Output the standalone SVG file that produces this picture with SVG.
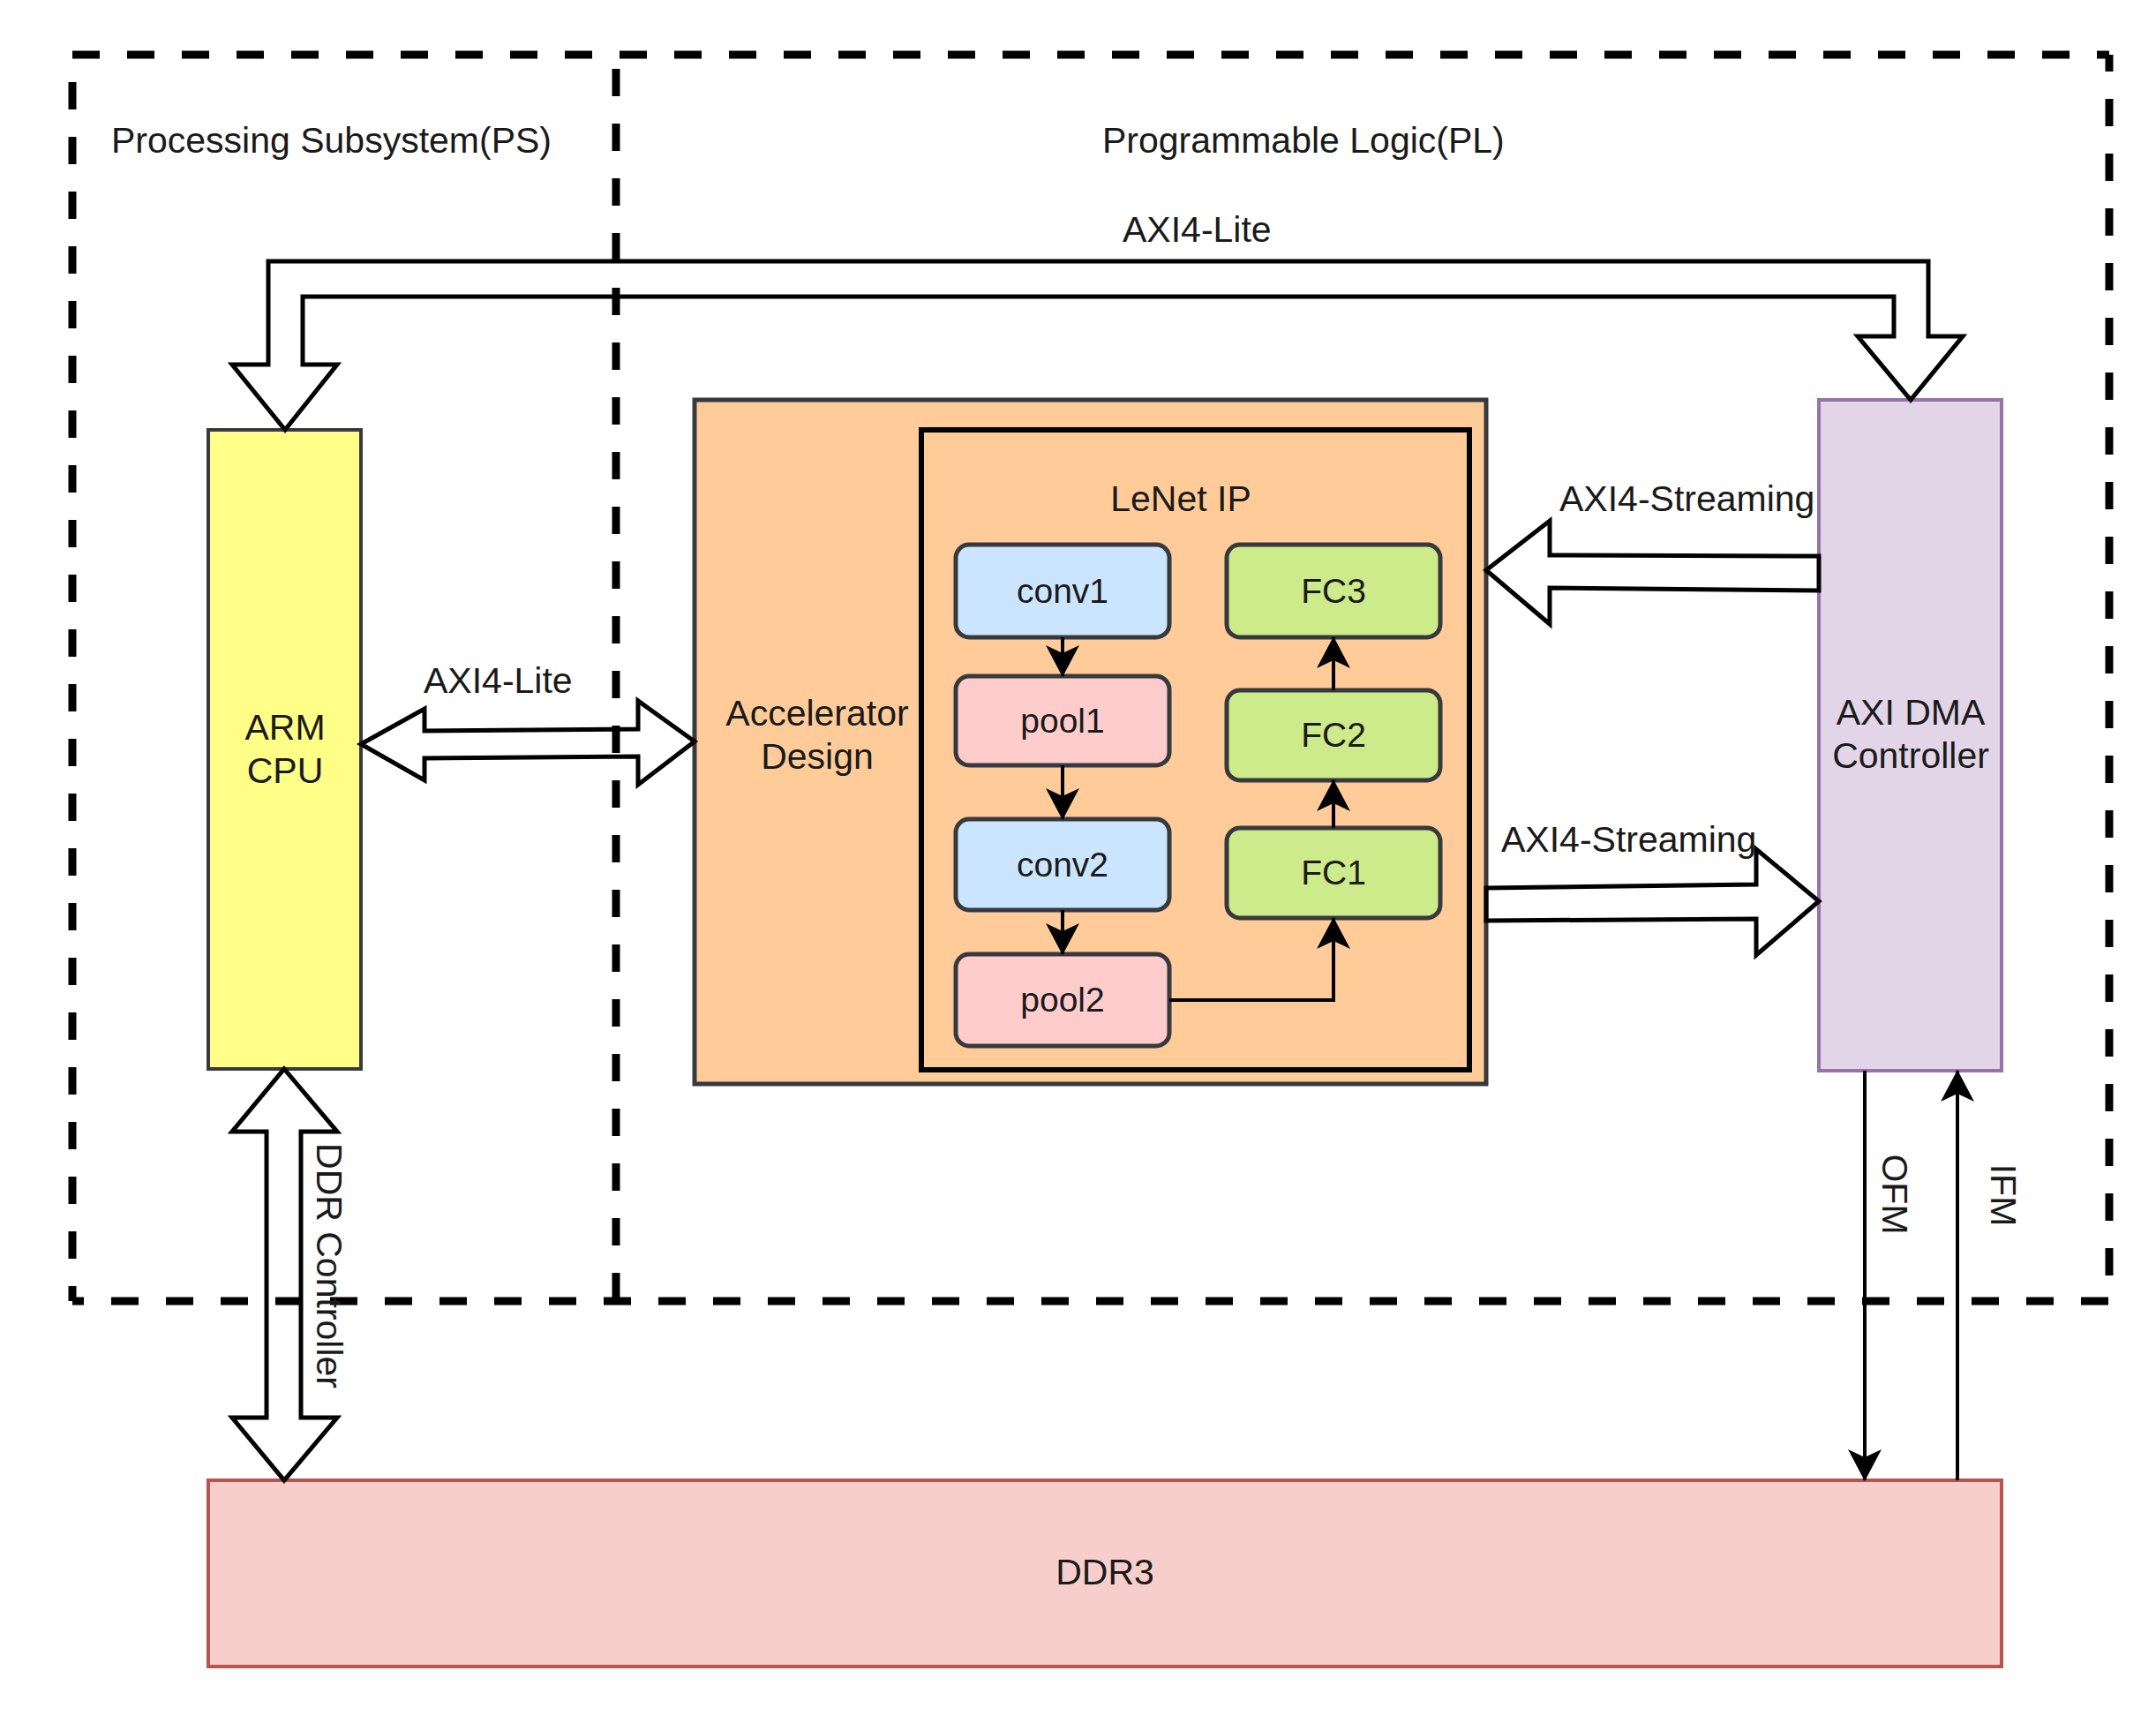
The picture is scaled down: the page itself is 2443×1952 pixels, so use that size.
<svg xmlns="http://www.w3.org/2000/svg" width="2443" height="1952" viewBox="0 0 2443 1952">
<defs>
<style>
text{font-family:"Liberation Sans",Arial,Helvetica,sans-serif;fill:#1a1a1a}
.lbl{font-size:41px}
.nl{font-size:39px;text-anchor:middle}
.mid{text-anchor:middle}
.dash{fill:none;stroke:#000;stroke-width:9;stroke-dasharray:31 31}
.node{stroke:#36393d;stroke-width:5}
.conv{fill:#cce5ff}
.pool{fill:#ffcccc}
.fc{fill:#cdeb8b}
.hollow{fill:none;stroke:#000;stroke-width:5;stroke-linejoin:miter}
.thin{fill:none;stroke:#000;stroke-width:4;marker-end:url(#ah)}
</style>
<marker id="ah" markerUnits="userSpaceOnUse" viewBox="0 0 36 38" markerWidth="36" markerHeight="38" refX="35" refY="19" orient="auto">
<path d="M36,19 L0,0 L9,19 L0,38 Z" fill="#000"/>
</marker>
</defs>
<rect width="2443" height="1952" fill="#fff"/>

<g id="ps-pl-frame">
<path class="dash" d="M82,62 H2390"/>
<path class="dash" d="M2390,62 V1474" stroke-dashoffset="12"/>
<path class="dash" d="M82,1474 H2390" stroke-dashoffset="18"/>
<path class="dash" d="M82,62 V1474" stroke-dashoffset="31"/>
<path class="dash" d="M698,62 V1474" stroke-dashoffset="46"/>
<text class="lbl" x="126" y="173">Processing Subsystem(PS)</text>
<text class="lbl" x="1249" y="173">Programmable Logic(PL)</text>
</g>

<g id="arm-cpu">
<rect x="236" y="487" width="173" height="724" fill="#ffff88" stroke="#36393d" stroke-width="4"/>
<text class="lbl mid" x="323" y="838">ARM</text>
<text class="lbl mid" x="323" y="887">CPU</text>
</g>

<g id="accelerator">
<rect x="787" y="453" width="897" height="775" fill="#ffcc99" stroke="#36393d" stroke-width="5"/>
<text class="lbl mid" x="926" y="822">Accelerator</text>
<text class="lbl mid" x="926" y="871">Design</text>
</g>

<g id="lenet-ip">
<rect x="1044" y="487" width="621" height="725" fill="none" stroke="#000" stroke-width="6"/>
<text class="lbl mid" x="1338" y="579">LeNet IP</text>
</g>

<g id="conv1"><rect class="node conv" x="1083" y="617" width="242" height="105" rx="15"/><text class="nl" x="1204" y="683">conv1</text></g>
<g id="pool1"><rect class="node pool" x="1083" y="766" width="242" height="101" rx="15"/><text class="nl" x="1204" y="830">pool1</text></g>
<g id="conv2"><rect class="node conv" x="1083" y="928" width="242" height="103" rx="15"/><text class="nl" x="1204" y="993">conv2</text></g>
<g id="pool2"><rect class="node pool" x="1083" y="1081" width="242" height="104" rx="15"/><text class="nl" x="1204" y="1146">pool2</text></g>
<g id="fc3"><rect class="node fc" x="1390" y="617" width="242" height="105" rx="15"/><text class="nl" x="1511" y="683">FC3</text></g>
<g id="fc2"><rect class="node fc" x="1390" y="782" width="242" height="102" rx="15"/><text class="nl" x="1511" y="846">FC2</text></g>
<g id="fc1"><rect class="node fc" x="1390" y="938" width="242" height="102" rx="15"/><text class="nl" x="1511" y="1002">FC1</text></g>

<g id="axi-dma">
<rect x="2061" y="453" width="207" height="760" fill="#e1d5e7" stroke="#9673a6" stroke-width="4"/>
<text class="lbl mid" x="2165" y="821">AXI DMA</text>
<text class="lbl mid" x="2165" y="870">Controller</text>
</g>

<g id="ddr3">
<rect x="236" y="1677" width="2032" height="211" fill="#f8cecc" stroke="#b85450" stroke-width="4"/>
<text class="lbl mid" x="1252" y="1795">DDR3</text>
</g>

<g id="connectors">
<path class="hollow" d="M323,487 L382,413 L343,413 L343,336 L2146,336 L2146,381 L2105,381 L2165,453 L2224,381 L2185,381 L2185,296 L304,296 L304,413 L263,413 Z"/>
<text class="lbl" x="1272" y="274">AXI4-Lite</text>
<path class="hollow" d="M409,843 L481,803 L481,828 L723,826 L723,794 L787,840 L723,889 L723,857 L481,859 L481,884 Z"/>
<text class="lbl" x="480" y="785">AXI4-Lite</text>
<path class="hollow" d="M1684,646 L1756,590 L1756,629 L2061,630 L2061,669 L1756,666 L1756,707 Z"/>
<text class="lbl" x="1767" y="579">AXI4-Streaming</text>
<path class="hollow" d="M1684,1006 L1990,1002 L1990,962 L2061,1021 L1990,1082 L1990,1041 L1684,1043 Z"/>
<text class="lbl" x="1701" y="965">AXI4-Streaming</text>
<path class="hollow" d="M322,1211 L382,1282 L341,1282 L341,1606 L382,1606 L322,1677 L263,1606 L302,1606 L302,1282 L263,1282 Z"/>
<text class="lbl mid" transform="translate(373,1434) rotate(90)" y="14">DDR Controller</text>
<path class="thin" d="M2113,1213 V1677"/>
<text class="lbl mid" transform="translate(2147,1353) rotate(90)" y="14">OFM</text>
<path class="thin" d="M2218,1677 V1213"/>
<text class="lbl mid" transform="translate(2270,1354) rotate(90)" y="14">IFM</text>
<path class="thin" d="M1204,722 V766"/>
<path class="thin" d="M1204,867 V928"/>
<path class="thin" d="M1204,1031 V1081"/>
<path class="thin" d="M1325,1133 H1511 V1040"/>
<path class="thin" d="M1511,938 V884"/>
<path class="thin" d="M1511,782 V722"/>
</g>
</svg>
